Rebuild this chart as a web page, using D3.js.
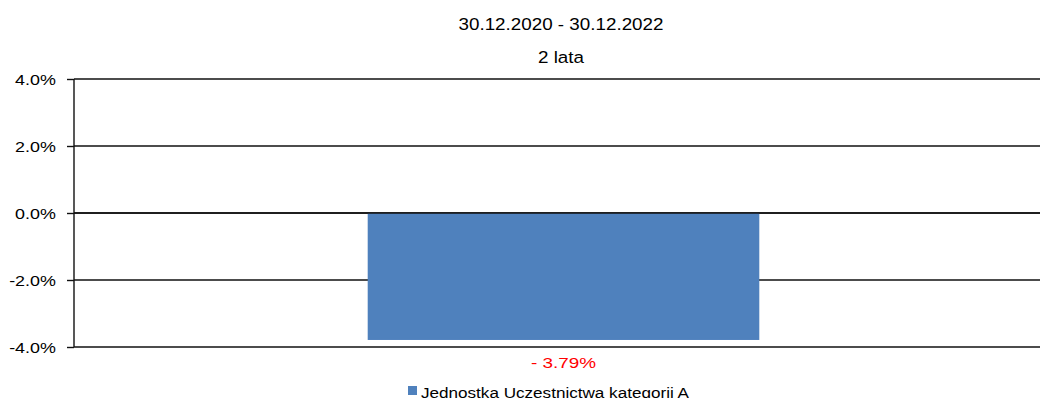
<!DOCTYPE html>
<html>
<head>
<meta charset="utf-8">
<script src="https://cdn.jsdelivr.net/npm/d3@7"></script>
<style>
  html, body { margin: 0; padding: 0; background: #fff; }
  svg { display: block; font-family: "Liberation Sans", Arial, sans-serif; }
</style>
</head>
<body>
<svg id="chart" width="1040" height="398"></svg>
<script>
// Return over the period, in percent
const categories = ["Jednostka Uczestnictwa kategorii A"];
const values = [-3.79];
const tickValues = [-4, -2, 0, 2, 4];
const titleLines = ["30.12.2020 - 30.12.2022", "2 lata"];
const barColor = "#4f81bd";

const svg = d3.select("#chart");
const plotLeft = 74, plotRight = 1053, plotTop = 79, plotBottom = 347;

const y = d3.scaleLinear().domain([-4, 4]).range([plotBottom, plotTop]);
const x = d3.scaleBand().domain(categories).range([plotLeft, plotRight]).paddingInner(0.6).paddingOuter(0.3);

// Place a text, widened horizontally around its anchor point
function putText(sel, px, py, size, stretch) {
  sel.attr("transform", (d, i) => `translate(${px(d, i)},${py(d, i)}) scale(${stretch},1)`)
     .attr("font-size", size);
  return sel;
}

// Titles
putText(svg.selectAll("text.title").data(titleLines).enter().append("text")
  .attr("class", "title")
  .attr("text-anchor", "middle").attr("fill", "#000")
  .text(d => d), () => 561, (d, i) => 30 + i * 33, 16.5, 1.14);

// Gridlines
svg.append("g").selectAll("line").data(tickValues).enter().append("line")
  .attr("x1", plotLeft).attr("x2", 1040)
  .attr("y1", d => y(d)).attr("y2", d => y(d))
  .attr("stroke", "#111").attr("stroke-width", 1.4);

// Bars
svg.append("g").selectAll("rect").data(values).enter().append("rect")
  .attr("x", (d, i) => x(categories[i]))
  .attr("width", x.bandwidth())
  .attr("y", d => y(Math.max(0, d)))
  .attr("height", d => Math.abs(y(d) - y(0)))
  .attr("fill", barColor);

// Zero line on top of the bar
svg.append("line")
  .attr("x1", plotLeft).attr("x2", 1040)
  .attr("y1", y(0)).attr("y2", y(0))
  .attr("stroke", "#111").attr("stroke-width", 1.4);

// Y axis
const yAxis = d3.axisLeft(y).tickValues(tickValues).tickSize(7).tickPadding(8)
  .tickFormat(d => d3.format(".1f")(d).replace("−", "-") + "%");
const ag = svg.append("g").attr("transform", `translate(${plotLeft},0)`).call(yAxis);
ag.select(".domain").attr("stroke", "#111").attr("stroke-width", 1.4).attr("d", `M0,${plotTop}V${plotBottom}`);
ag.selectAll(".tick line").attr("stroke", "#111").attr("stroke-width", 1.4);
ag.selectAll(".tick text")
  .attr("font-size", 14.8).attr("fill", "#000")
  .attr("font-family", "Liberation Sans, Arial, sans-serif")
  .attr("transform", "scale(1.21,1)")
  .attr("dy", "0.36em");

// Value labels
putText(svg.append("g").selectAll("text").data(values).enter().append("text")
  .attr("text-anchor", "middle").attr("fill", "#ff0000")
  .text(d => (d < 0 ? "- " : "") + Math.abs(d).toFixed(2) + "%"),
  (d, i) => x(categories[i]) + x.bandwidth() / 2,
  d => y(Math.min(0, d)) + 28, 15, 1.26);

// Legend
const lg = svg.append("g").attr("transform", "translate(408,386)");
lg.append("rect").attr("width", 9).attr("height", 9).attr("fill", barColor);
putText(lg.append("text").attr("fill", "#000").text(categories[0]), () => 13, () => 11.5, 14.5, 1.18);
</script>
</body>
</html>
